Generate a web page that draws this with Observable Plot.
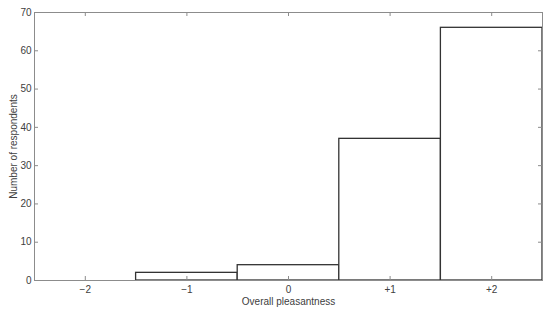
<!DOCTYPE html>
<html>
<head>
<meta charset="utf-8">
<script src="https://cdn.jsdelivr.net/npm/d3@7"></script>
<script src="https://cdn.jsdelivr.net/npm/@observablehq/plot@0.6"></script>
<style>
  html, body { margin: 0; padding: 0; background: #fff; }
  #chart { width: 550px; height: 311px; }
</style>
</head>
<body>
<div id="chart"></div>
<script>
const categories = [-2, -1, 0, 1, 2];
const tickLabels = ["\u22122", "\u22121", "0", "+1", "+2"];
const counts = [0, 2, 4, 37, 66];
const yTicks = [0, 10, 20, 30, 40, 50, 60, 70];

const data = categories.map((c, i) => ({cat: c, count: counts[i]}));

const W = 550, H = 311;
const mL = 34, mR = 8, mT = 12, mB = 31;
const plotH = H - mT - mB;
const plotW = W - mL - mR;
const tickLen = 4;
const axisColor = "#8c8c8c";
const textColor = "#404040";

const chart = Plot.plot({
  width: W,
  height: H,
  marginLeft: mL,
  marginRight: mR,
  marginTop: mT,
  marginBottom: mB,
  style: {fontFamily: "'Liberation Sans', Arial, Helvetica, sans-serif", fontSize: "10px", color: textColor, background: "#fff"},
  x: {domain: [-2.5, 2.5]},
  y: {domain: [0, 70]},
  marks: [
    Plot.rect(data, {
      filter: d => d.count > 0,
      x1: d => d.cat - 0.5,
      x2: d => d.cat + 0.5,
      y1: 0,
      y2: "count",
      fill: "white",
      stroke: "#333",
      strokeWidth: 1.3
    }),
    Plot.frame({stroke: axisColor, strokeWidth: 1}),
    // inward ticks, bottom and top
    Plot.tickX(categories, {x: d => d, insetTop: plotH - tickLen, stroke: axisColor}),
    Plot.tickX(categories, {x: d => d, insetBottom: plotH - tickLen, stroke: axisColor}),
    // inward ticks, left and right
    Plot.tickY(yTicks, {y: d => d, insetRight: plotW - tickLen, stroke: axisColor}),
    Plot.tickY(yTicks, {y: d => d, insetLeft: plotW - tickLen, stroke: axisColor}),
    Plot.axisX(categories, {
      tickSize: 0,
      tickPadding: 5,
      tickFormat: (d, i) => tickLabels[categories.indexOf(d)],
      label: "Overall pleasantness",
      labelAnchor: "center",
      labelArrow: "none",
      labelOffset: 24,
      fill: textColor
    }),
    Plot.axisY(yTicks, {
      tickSize: 0,
      tickPadding: 3,
      label: "Number of respondents",
      labelAnchor: "center",
      labelArrow: "none",
      labelOffset: 25,
      fill: textColor
    })
  ]
});
document.getElementById("chart").appendChild(chart);
</script>
</body>
</html>
